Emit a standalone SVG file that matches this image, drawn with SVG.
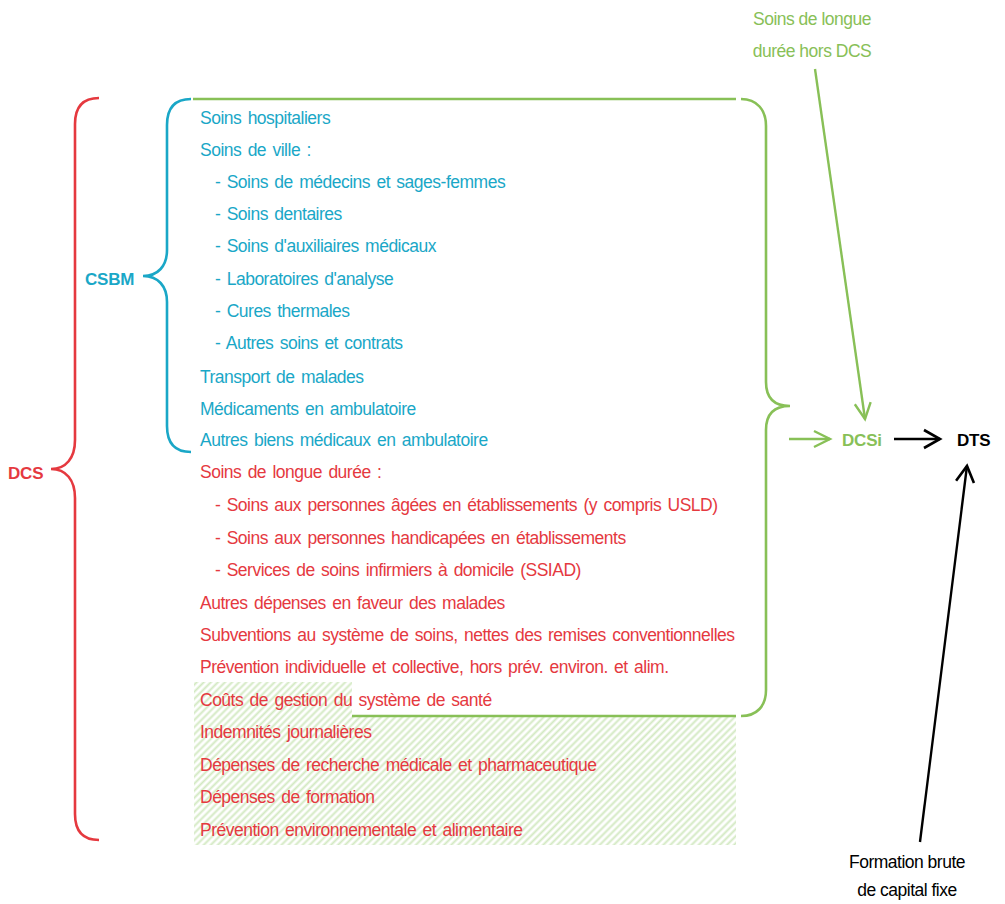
<svg xmlns="http://www.w3.org/2000/svg" width="1005" height="904" viewBox="0 0 1005 904">
<style>
text{font-family:"Liberation Sans",Arial,sans-serif;font-size:17.5px;letter-spacing:-0.5px}
.lst{letter-spacing:-0.4px;word-spacing:2px}
.b{fill:#1AA7C7}
.r{fill:#E5393F}
.g{fill:#88C057}
.k{fill:#000}
.bold{font-weight:bold;font-size:17px;letter-spacing:-0.2px}
.brace{fill:none;stroke-width:2.6;stroke-linecap:butt}
.conn{fill:none;stroke-width:2.4}
</style>
<defs>
<pattern id="hatch" patternUnits="userSpaceOnUse" width="5" height="5" patternTransform="rotate(45)">
<line x1="1.5" y1="0" x2="1.5" y2="5" stroke="#D3E9C2" stroke-width="2"/>
</pattern>
<marker id="ag" markerUnits="userSpaceOnUse" markerWidth="24" markerHeight="24" viewBox="-20 -12 24 24" refX="0" refY="0" orient="auto">
<path d="M-16,-8 L0,0 L-16,8" fill="none" stroke="#88C057" stroke-width="2.4"/>
</marker>
<marker id="ak" markerUnits="userSpaceOnUse" markerWidth="24" markerHeight="24" viewBox="-20 -12 24 24" refX="0" refY="0" orient="auto">
<path d="M-16,-9 L0,0 L-16,9" fill="none" stroke="#000" stroke-width="2.6"/>
</marker>
</defs>
<rect width="1005" height="904" fill="#fff"/>

<g id="hatch-zone">
<path d="M194,682 H352 V716 H736 V845 H194 Z" fill="url(#hatch)"/>
</g>

<g id="braces">
<path id="brace-dcs" class="brace" stroke="#E5393F" d="M99,98 C82,98 75,108 75,124 V440 C75,458 66,469 51,469 C66,469 75,480 75,498 V814 C75,830 82,840 99,840"/>
<path id="brace-csbm" class="brace" stroke="#1AA7C7" d="M191,99 C174,99 167,109 167,125 V250 C167,266 158,276 143,276 C158,276 167,286 167,302 V426 C167,442 174,452 191,452"/>
<g id="brace-dcsi" class="brace" stroke="#88C057">
<path d="M193,99 H736"/>
<path d="M741,99 C757,99 766,110 766,126 V382 C766,398 774,406 790,406 C774,406 766,414 766,430 V690 C766,706 757,716 741,716"/>
<path d="M736,716 H352"/>
</g>
</g>

<g id="csbm-list" class="lst">
<text class="b" x="200" y="124">Soins hospitaliers</text>
<text class="b" x="200" y="156">Soins de ville :</text>
<text class="b" x="215" y="188">- Soins de médecins et sages-femmes</text>
<text class="b" x="215" y="220">- Soins dentaires</text>
<text class="b" x="215" y="252">- Soins d'auxiliaires médicaux</text>
<text class="b" x="215" y="285">- Laboratoires d'analyse</text>
<text class="b" x="215" y="317">- Cures thermales</text>
<text class="b" x="215" y="349">- Autres soins et contrats</text>
<text class="b" x="200" y="383">Transport de malades</text>
<text class="b" x="200" y="415">Médicaments en ambulatoire</text>
<text class="b" x="200" y="446">Autres biens médicaux en ambulatoire</text>
</g>

<g id="dcs-list" class="lst">
<text class="r" x="200" y="478">Soins de longue durée :</text>
<text class="r" x="215" y="511">- Soins aux personnes âgées en établissements (y compris USLD)</text>
<text class="r" x="215" y="544">- Soins aux personnes handicapées en établissements</text>
<text class="r" x="215" y="576">- Services de soins infirmiers à domicile (SSIAD)</text>
<text class="r" x="200" y="609">Autres dépenses en faveur des malades</text>
<text class="r" x="200" y="641">Subventions au système de soins, nettes des remises conventionnelles</text>
<text class="r" x="200" y="673">Prévention individuelle et collective, hors prév. environ. et alim.</text>
<text class="r" x="200" y="706">Coûts de gestion du système de santé</text>
<text class="r" x="200" y="738">Indemnités journalières</text>
<text class="r" x="200" y="771">Dépenses de recherche médicale et pharmaceutique</text>
<text class="r" x="200" y="803">Dépenses de formation</text>
<text class="r" x="200" y="836">Prévention environnementale et alimentaire</text>
</g>

<g id="csbm"><text class="b bold" x="85" y="285">CSBM</text></g>
<g id="dcs"><text class="r bold" x="8" y="479">DCS</text></g>
<g id="dcsi"><text class="g bold" x="842" y="446">DCSi</text></g>
<g id="dts"><text class="k bold" x="957" y="446">DTS</text></g>
<g id="sld-hors-dcs">
<text class="g" x="812" y="25" text-anchor="middle">Soins de longue</text>
<text class="g" x="812" y="57" text-anchor="middle">durée hors DCS</text>
</g>
<g id="fbcf">
<text class="k" x="907" y="868" text-anchor="middle">Formation brute</text>
<text class="k" x="907" y="896" text-anchor="middle">de capital fixe</text>
</g>

<g id="connectors">
<line class="conn" stroke="#88C057" x1="815" y1="69" x2="865" y2="419" marker-end="url(#ag)"/>
<line class="conn" stroke="#88C057" x1="789" y1="439" x2="830" y2="439" marker-end="url(#ag)"/>
<line class="conn" stroke="#000" stroke-width="2.6" x1="894" y1="439" x2="940" y2="439" marker-end="url(#ak)"/>
<line class="conn" stroke="#000" stroke-width="2.6" x1="920" y1="842" x2="967" y2="466" marker-end="url(#ak)"/>
</g>
</svg>
